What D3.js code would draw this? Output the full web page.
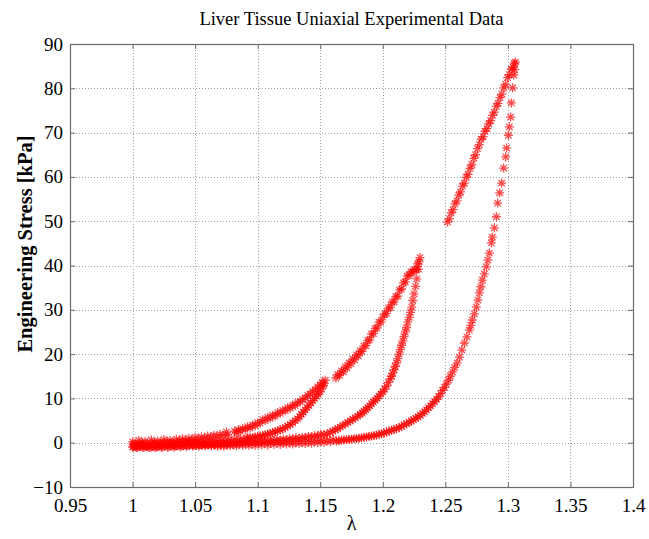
<!DOCTYPE html>
<html>
<head>
<meta charset="utf-8">
<script src="https://cdn.jsdelivr.net/npm/d3@7"></script>
<style>
  html, body { margin: 0; padding: 0; background: #fff; }
  svg { display: block; }
  text { font-family: "Liberation Serif", "Times New Roman", serif; fill: #000; }
</style>
</head>
<body>
<svg id="chart" width="649" height="539"></svg>
<script>
// Uniaxial loading / unloading cycles of liver tissue: [stretch λ, engineering stress kPa]
const xTickValues = [0.95, 1, 1.05, 1.1, 1.15, 1.2, 1.25, 1.3, 1.35, 1.4];
const xTickLabels = ["0.95", "1", "1.05", "1.1", "1.15", "1.2", "1.25", "1.3", "1.35", "1.4"];
const yTickValues = [-10, 0, 10, 20, 30, 40, 50, 60, 70, 80, 90];
const yTickLabels = ["\u221210", "0", "10", "20", "30", "40", "50", "60", "70", "80", "90"];

// cycle 1 — loading along the toe region
const loading1Base = [
  [1.0000,0.2],[1.0025,-0.4],[1.0050,0.5],[1.0075,-0.1],[1.0100,0.3],[1.0125,-0.5],[1.0150,0.6],[1.0175,0.0],
  [1.0200,0.4],[1.0225,-0.2],[1.0250,0.7],[1.0275,0.1],[1.0300,0.5],[1.0325,-0.1],[1.0350,0.8],[1.0375,0.3],
  [1.0400,0.9],[1.0425,0.4],[1.0450,1.0],[1.0475,0.5],[1.0500,1.2],[1.0525,0.7],[1.0550,1.3],[1.0575,0.9],
  [1.0600,1.5],[1.0625,1.1],[1.0650,1.7],[1.0675,1.3],[1.0700,1.9],[1.0725,1.6],[1.0750,2.4],[1.0760,1.8]
];
// cycle 1 — loading branch
const loading1 = [
  [1.0815,2.6],[1.0830,2.2],[1.0845,2.9],[1.0860,2.6],[1.0880,3.2],[1.0900,3.0],[1.0920,3.6],[1.0940,3.3],
  [1.0960,4.0],[1.0980,3.8],[1.1000,4.5],[1.1020,4.4],[1.1040,5.2],[1.1060,5.0],[1.1080,5.7],[1.1100,5.5],
  [1.1120,6.2],[1.1140,6.0],[1.1160,6.8],[1.1180,6.6],[1.1200,7.3],[1.1220,7.2],[1.1240,7.9],[1.1260,7.8],
  [1.1280,8.5],[1.1300,8.4],[1.1320,9.1],[1.1340,9.2],[1.1360,9.8],[1.1380,10.0],[1.1400,10.7],[1.1420,10.9],
  [1.1440,11.6],[1.1460,11.9],[1.1480,12.6],[1.1500,13.0],[1.1515,13.6],[1.1530,13.3],[1.1540,14.1]
];
// cycle 1 — unloading branch
const unloading1 = [
  [1.1525,12.9],[1.1510,12.1],[1.1498,11.5],[1.1485,10.9],[1.1470,10.5],[1.1455,10.0],[1.1440,9.5],[1.1425,9.0],
  [1.1410,8.4],[1.1395,7.9],[1.1380,7.4],[1.1365,6.9],[1.1350,6.4],[1.1335,5.9],[1.1320,5.4],[1.1300,5.0],
  [1.1280,4.5],[1.1260,4.1],[1.1240,3.8],[1.1220,3.4],[1.1200,3.1],[1.1180,2.9],[1.1160,2.7],[1.1140,2.5],
  [1.1120,2.3],[1.1100,2.1],[1.1080,1.9],[1.1060,1.8],[1.1040,1.6],[1.1020,1.5],[1.1000,1.4],[1.0980,1.3],
  [1.0960,1.2],[1.0940,1.1],[1.0920,1.0]
];
const unloading1Tail = [
  [1.0913,1.1],[1.0890,0.5],[1.0865,0.9],[1.0840,0.3],[1.0815,0.8],[1.0790,0.2],[1.0765,0.6],[1.0740,0.0],
  [1.0715,0.5],[1.0690,-0.1],[1.0665,0.4],[1.0640,-0.2],[1.0615,0.3],[1.0590,-0.3],[1.0565,0.2],[1.0540,-0.4],
  [1.0515,0.1],[1.0490,-0.5],[1.0465,0.0],[1.0440,-0.6],[1.0415,-0.1],[1.0390,-0.7],[1.0365,-0.2],[1.0340,-0.8],
  [1.0315,-0.3],[1.0290,-0.9],[1.0265,-0.4],[1.0240,-1.0],[1.0215,-0.5],[1.0190,-1.0],[1.0165,-0.5],[1.0140,-1.1],
  [1.0115,-0.6],[1.0090,-1.0],[1.0065,-0.5],[1.0040,-1.1],[1.0015,-0.7],[1.0000,-1.0]
];
// cycle 2 — loading branch
const loading2 = [
  [1.1625,14.6],[1.1640,15.4],[1.1655,15.2],[1.1670,16.2],[1.1685,16.0],[1.1700,17.1],[1.1715,16.9],[1.1730,18.0],
  [1.1745,17.8],[1.1760,18.9],[1.1775,18.7],[1.1790,19.8],[1.1805,19.6],[1.1820,20.7],[1.1835,20.6],[1.1850,21.8],
  [1.1865,21.9],[1.1880,23.1],[1.1895,23.2],[1.1910,24.5],[1.1925,24.6],[1.1940,25.8],[1.1955,25.9],[1.1970,27.2],
  [1.1985,27.2],[1.2000,28.3],[1.2015,29.1],[1.2030,29.2],[1.2045,30.4],[1.2060,30.5],[1.2075,31.7],[1.2090,31.8],
  [1.2105,33.0],[1.2120,33.1],[1.2135,34.5],[1.2150,34.7],[1.2165,36.1],[1.2180,36.3],[1.2195,37.6],[1.2210,37.8],
  [1.2225,38.6],[1.2240,38.5],[1.2255,39.1],[1.2270,39.1],[1.2280,40.4],[1.2290,40.8],[1.2297,41.8]
];
// cycle 2 — unloading branch
const unloading2 = [
  [1.2285,39.2],[1.2272,37.0],[1.2262,35.3],[1.2250,33.6],[1.2240,32.1],[1.2232,30.6],[1.2222,29.4],[1.2212,28.3],
  [1.2200,27.2],[1.2190,26.0],[1.2180,25.0],[1.2170,24.0],[1.2160,23.0],[1.2150,22.0],[1.2140,21.0],[1.2130,20.0],
  [1.2120,19.0],[1.2110,18.0],[1.2100,17.2],[1.2090,16.5],[1.2080,15.7],[1.2070,15.0],[1.2060,14.4],[1.2045,13.6],
  [1.2030,12.8],[1.2015,12.1],[1.2000,11.5],[1.1985,11.0],[1.1970,10.5],[1.1955,10.0],[1.1940,9.6],[1.1925,9.2],
  [1.1910,8.8],[1.1895,8.3],[1.1880,7.9],[1.1865,7.5],[1.1850,7.1],[1.1835,6.7],[1.1820,6.4],[1.1800,6.0],
  [1.1780,5.6],[1.1760,5.3],[1.1740,4.9],[1.1720,4.6],[1.1700,4.2],[1.1680,3.9],[1.1660,3.5],[1.1640,3.2],
  [1.1620,2.9],[1.1600,2.6],[1.1580,2.3]
];
const unloading2Tail = [
  [1.1555,2.0],[1.1530,1.8],[1.1505,1.9],[1.1480,1.5],[1.1455,1.6],[1.1430,1.3],[1.1405,1.4],[1.1380,1.1],
  [1.1355,1.2],[1.1330,0.9],[1.1305,1.1],[1.1280,0.8],[1.1255,0.9],[1.1230,0.6],[1.1205,0.8],[1.1180,0.5],
  [1.1155,0.7],[1.1130,0.4],[1.1105,0.6],[1.1080,0.3],[1.1055,0.5],[1.1030,0.2],[1.1005,0.4],[1.0980,0.1],
  [1.0955,0.3],[1.0930,0.0],[1.0905,0.2],[1.0880,-0.1],[1.0855,0.1],[1.0830,-0.2],[1.0805,0.0],[1.0780,-0.3],
  [1.0755,-0.1],[1.0730,-0.4],[1.0705,-0.2],[1.0680,-0.5],[1.0655,-0.3],[1.0630,-0.6],[1.0605,-0.4],[1.0580,-0.7],
  [1.0555,-0.5],[1.0530,-0.8],[1.0505,-0.6],[1.0480,-0.8],[1.0455,-0.6],[1.0430,-0.9],[1.0405,-0.7],[1.0380,-0.9],
  [1.0355,-0.7],[1.0330,-1.0],[1.0305,-0.7],[1.0280,-1.0],[1.0255,-0.7],[1.0230,-1.0],[1.0205,-0.8],[1.0180,-1.1],
  [1.0155,-0.8],[1.0130,-1.1],[1.0105,-0.8],[1.0080,-1.1],[1.0055,-0.8],[1.0030,-1.1],[1.0005,-0.9]
];
// cycle 3 — loading branch
const loading3 = [
  [1.2517,49.8],[1.2532,50.6],[1.2547,51.9],[1.2562,52.6],[1.2577,53.9],[1.2592,54.6],[1.2607,55.9],[1.2622,56.6],
  [1.2637,57.9],[1.2652,58.6],[1.2667,59.9],[1.2682,60.6],[1.2697,61.9],[1.2712,62.8],[1.2727,64.2],[1.2742,65.0],
  [1.2757,66.4],[1.2772,67.3],[1.2787,68.5],[1.2802,69.1],[1.2817,70.3],[1.2832,70.9],[1.2847,72.0],[1.2862,72.7],
  [1.2877,73.9],[1.2892,74.6],[1.2907,75.9],[1.2922,76.6],[1.2937,77.9],[1.2952,78.7],[1.2967,80.1],[1.2982,80.9],
  [1.2997,82.4],[1.3012,83.1],[1.3027,84.3],[1.3042,84.8],[1.3052,85.6],[1.3060,85.9],[1.3055,84.2],[1.3048,83.0]
];
// cycle 3 — unloading branch
const unloading3 = [
  [1.3038,80.1],[1.3028,76.7],[1.3022,73.5],[1.3012,71.3],[1.3004,69.4],[1.2990,66.5],[1.2982,64.5],[1.2966,62.0],
  [1.2950,58.6],[1.2934,56.4],[1.2918,54.1],[1.2908,51.0],[1.2892,48.5],[1.2876,46.4],[1.2868,45.1],[1.2852,42.8],
  [1.2840,41.2],[1.2828,39.7],[1.2812,38.1],[1.2796,36.7],[1.2784,35.2],[1.2772,33.8],[1.2760,32.2],[1.2748,30.6],
  [1.2732,29.1],[1.2716,27.7],[1.2704,26.5],[1.2692,25.4],[1.2672,23.9],[1.2652,22.5],[1.2632,20.9],[1.2613,19.3],
  [1.2595,18.0],[1.2575,17.0],[1.2557,16.0],[1.2540,15.0],[1.2525,14.1],[1.2508,13.2],[1.2493,12.5],[1.2478,11.8],
  [1.2462,11.1],[1.2446,10.4],[1.2430,9.8],[1.2414,9.3],[1.2398,8.8],[1.2382,8.3],[1.2366,7.9],[1.2350,7.4],
  [1.2334,7.0],[1.2318,6.6],[1.2300,6.2],[1.2282,5.8],[1.2264,5.5],[1.2246,5.2],[1.2228,4.9],[1.2210,4.6],
  [1.2190,4.3],[1.2170,4.0],[1.2150,3.7],[1.2130,3.4],[1.2110,3.2],[1.2090,3.0],[1.2070,2.8],[1.2050,2.6],
  [1.2030,2.4],[1.2010,2.2],[1.1990,2.0],[1.1970,1.9],[1.1950,1.7],[1.1930,1.6],[1.1910,1.5],[1.1890,1.4],
  [1.1870,1.3],[1.1850,1.2],[1.1830,1.1],[1.1810,1.0],[1.1790,0.9],[1.1770,0.9],[1.1750,0.8],[1.1730,0.7],
  [1.1710,0.7],[1.1690,0.6],[1.1670,0.6],[1.1650,0.5]
];
const unloading3Tail = [
  [1.1630,0.3],[1.1605,0.7],[1.1580,0.2],[1.1555,0.6],[1.1530,0.1],[1.1505,0.5],[1.1480,0.0],[1.1455,0.4],
  [1.1430,-0.1],[1.1405,0.3],[1.1380,-0.2],[1.1355,0.3],[1.1330,-0.2],[1.1305,0.2],[1.1280,-0.3],[1.1255,0.2],
  [1.1230,-0.3],[1.1205,0.1],[1.1180,-0.4],[1.1155,0.1],[1.1130,-0.4],[1.1105,0.0],[1.1080,-0.5],[1.1055,0.0],
  [1.1030,-0.5],[1.1005,-0.1],[1.0980,-0.6],[1.0955,-0.1],[1.0930,-0.6],[1.0905,-0.2],[1.0880,-0.6],[1.0855,-0.2],
  [1.0830,-0.7],[1.0805,-0.2],[1.0780,-0.7],[1.0755,-0.3],[1.0730,-0.8],[1.0705,-0.3],[1.0680,-0.8],[1.0655,-0.3],
  [1.0630,-0.7],[1.0605,-0.2],[1.0580,-0.6],[1.0555,-0.1],[1.0530,-0.5],[1.0505,0.0],[1.0480,-0.4],[1.0455,0.1],
  [1.0430,-0.3],[1.0405,0.1],[1.0380,-0.3],[1.0355,0.1],[1.0330,-0.4],[1.0305,0.0],[1.0280,-0.4],[1.0255,0.0],
  [1.0230,-0.5],[1.0205,-0.1],[1.0180,-0.5],[1.0155,-0.1],[1.0130,-0.6],[1.0105,-0.2],[1.0080,-0.6],[1.0055,-0.2],
  [1.0030,-0.7],[1.0005,-0.3]
];

const series = [
  loading1Base, unloading1Tail, unloading2Tail, unloading3Tail,
  loading1, unloading1, loading2, unloading2, loading3, unloading3
];

const svg = d3.select("#chart");
const plot = { left: 70, right: 633, top: 44, bottom: 487 };

const x = d3.scaleLinear().domain([0.95, 1.4]).range([plot.left, plot.right]);
const y = d3.scaleLinear().domain([-10, 90]).range([plot.bottom, plot.top]);

// dotted grid
const grid = svg.append("g").attr("stroke", "#a0a0a0").attr("stroke-width", 1)
  .attr("stroke-dasharray", "1,2").attr("shape-rendering", "crispEdges");
grid.selectAll("line.gx").data(xTickValues.slice(1, -1)).join("line")
  .attr("x1", d => Math.round(x(d)) + 0.5).attr("x2", d => Math.round(x(d)) + 0.5)
  .attr("y1", plot.top).attr("y2", plot.bottom);
grid.selectAll("line.gy").data(yTickValues.slice(1, -1)).join("line")
  .attr("x1", plot.left).attr("x2", plot.right)
  .attr("y1", d => Math.round(y(d)) + 0.5).attr("y2", d => Math.round(y(d)) + 0.5);

// axes with inward ticks on all four sides
const tickLen = 5;
const xb = d3.axisBottom(x).tickValues(xTickValues).tickSize(-tickLen).tickPadding(11)
  .tickFormat((d, i) => xTickLabels[i]);
const xt = d3.axisTop(x).tickValues(xTickValues).tickSize(-tickLen).tickFormat("");
const yl = d3.axisLeft(y).tickValues(yTickValues).tickSize(-tickLen).tickPadding(7)
  .tickFormat((d, i) => yTickLabels[i]);
const yr = d3.axisRight(y).tickValues(yTickValues).tickSize(-tickLen).tickFormat("");

function styleAxis(g) {
  g.select(".domain").remove();
  g.selectAll(".tick line").attr("stroke", "#6b6b6b");
  g.selectAll(".tick text").attr("font-family", "Liberation Serif, serif")
    .attr("font-size", 19).attr("fill", "#000");
}
svg.append("g").attr("transform", `translate(0,${plot.bottom})`).call(xb).call(styleAxis)
  .selectAll(".tick text").attr("dy", "0.75em");
svg.append("g").attr("transform", `translate(0,${plot.top})`).call(xt).call(styleAxis);
svg.append("g").attr("transform", `translate(${plot.left},0)`).call(yl).call(styleAxis);
svg.append("g").attr("transform", `translate(${plot.right},0)`).call(yr).call(styleAxis);

// frame
svg.append("rect")
  .attr("x", plot.left + 0.5).attr("y", plot.top + 0.5)
  .attr("width", plot.right - plot.left).attr("height", plot.bottom - plot.top)
  .attr("fill", "none").attr("stroke", "#6b6b6b").attr("stroke-width", 1.2);

// asterisk markers ('+' and 'x' combined)
const r = 4.5, dd = r * 0.7071;
const star = `M${-r},0L${r},0M0,${-r}L0,${r}M${-dd},${-dd}L${dd},${dd}M${-dd},${dd}L${dd},${-dd}`;
const pts = svg.append("g").attr("fill", "none").attr("stroke", "#ff0000")
  .attr("stroke-width", 1.3).attr("stroke-opacity", 0.7);
series.forEach(s => {
  pts.append("g").selectAll("path").data(s).join("path")
    .attr("d", star)
    .attr("transform", d => `translate(${x(d[0])},${y(d[1])})`);
});

// labels
svg.append("text").attr("x", (plot.left + plot.right) / 2).attr("y", 25)
  .attr("text-anchor", "middle").attr("font-size", 18.5)
  .text("Liver Tissue Uniaxial Experimental Data");
svg.append("text").attr("x", (plot.left + plot.right) / 2).attr("y", 530)
  .attr("text-anchor", "middle").attr("font-size", 20).text("\u03bb");
svg.append("text").attr("transform", "translate(32,244) rotate(-90)")
  .attr("text-anchor", "middle").attr("font-size", 20.5).attr("font-weight", "bold")
  .text("Engineering Stress [kPa]");
</script>
</body>
</html>
